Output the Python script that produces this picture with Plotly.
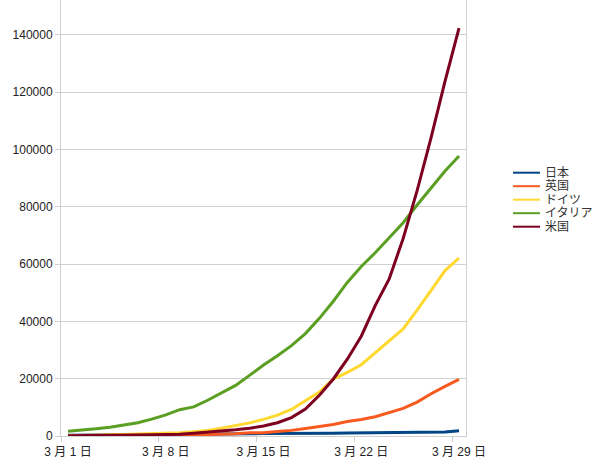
import plotly.graph_objects as go

# ---- data (cumulative confirmed cases, March 1-29) ----
days = list(range(1, 30))
series_names = ["日本", "英国", "ドイツ", "イタリア", "米国"]
japan = [256, 274, 293, 331, 360, 420, 461, 502, 511, 581, 639, 675, 701, 773, 839,
         825, 878, 889, 924, 963, 1007, 1086, 1086, 1089, 1128, 1193, 1291, 1387, 1866]
uk = [36, 40, 51, 86, 116, 164, 207, 274, 322, 384, 459, 590, 802, 1144, 1145,
      1551, 1960, 2642, 3277, 4014, 5067, 5745, 6726, 8164, 9640, 11812, 14745, 17312, 19780]
germany = [130, 159, 196, 262, 482, 670, 799, 1040, 1176, 1457, 1908, 2745, 3675, 4585, 5795,
           7272, 9257, 12327, 15320, 19848, 22213, 24873, 29056, 32986, 37323, 43938, 50871, 57695, 62095]
italy = [1694, 2036, 2502, 3089, 3858, 4636, 5883, 7375, 9172, 10149, 12462, 15113, 17660, 21157, 24747,
         27980, 31506, 35713, 41035, 47021, 53578, 59138, 63927, 69176, 74386, 80589, 86498, 92472, 97689]
usa = [74, 98, 118, 149, 217, 262, 402, 518, 583, 959, 1281, 1663, 2179, 2727, 3499,
       4632, 6421, 9400, 14200, 19900, 26800, 34800, 45500, 54800, 68900, 85600, 104100, 123800, 142300]
series_values = [japan, uk, germany, italy, usa]
colors = ["#004586", "#f85a20", "#ffd830", "#5a9e22", "#7e0021"]

tick_days = [1, 8, 15, 22, 29]
tick_labels = ["3 月 1 日", "3 月 8 日", "3 月 15 日", "3 月 22 日", "3 月 29 日"]

# ---- figure ----
W, H = 600, 476
ML, MR, MT, MB = 61, 134, 0, 40
FONT = "Liberation Sans, Noto Sans CJK JP, sans-serif"
GRID = "#d0d0d0"

fig = go.Figure()
for name, vals, col in zip(series_names, series_values, colors):
    fig.add_trace(go.Scatter(x=days, y=vals, name=name, mode="lines",
                             line=dict(color=col, width=3), showlegend=False,
                             hoverinfo="skip"))

# manual legend (compact spacing as in reference)
pw = W - ML - MR
ph = H - MT - MB
def px_x(px):
    return (px - ML) / pw
def px_y(py):
    return (H - MB - py) / ph

leg_top = 172.7
leg_step = 13.5
for i, (name, col) in enumerate(zip(series_names, colors)):
    yy = px_y(leg_top + i * leg_step)
    fig.add_shape(type="line", xref="paper", yref="paper",
                  x0=px_x(513), x1=px_x(540), y0=yy, y1=yy,
                  line=dict(color=col, width=2))
    fig.add_annotation(xref="paper", yref="paper", x=px_x(543), y=yy,
                       text=name, showarrow=False, xanchor="left", yanchor="middle",
                       font=dict(size=12, color="#333333", family=FONT))

fig.update_layout(
    width=W, height=H,
    margin=dict(l=ML, r=MR, t=MT, b=MB),
    paper_bgcolor="white", plot_bgcolor="white",
    font=dict(family=FONT, size=12, color="#222222"),
    showlegend=False,
)
fig.update_xaxes(
    range=[0.5, 29.5],
    tickmode="array", tickvals=tick_days, ticktext=tick_labels,
    ticks="", showgrid=False, zeroline=False, ticklabelstandoff=5,
    showline=True, linecolor=GRID, linewidth=1,
    minor=dict(ticks="outside", ticklen=5, tickcolor=GRID, tick0=0.5, dtick=7, showgrid=False),
    tickfont=dict(size=12, color="#222222"),
)
fig.update_yaxes(
    range=[0, 152100], dtick=20000, tick0=0, tickformat="d",
    showgrid=True, gridcolor=GRID, gridwidth=1, zeroline=False,
    showline=True, linecolor=GRID, linewidth=1, mirror=True,
    ticks="outside", ticklen=5, tickcolor=GRID,
    tickfont=dict(size=12, color="#222222"),
)

fig.write_html("out.html", config={"displayModeBar": False},
               post_script="document.body.style.margin='0px';")
